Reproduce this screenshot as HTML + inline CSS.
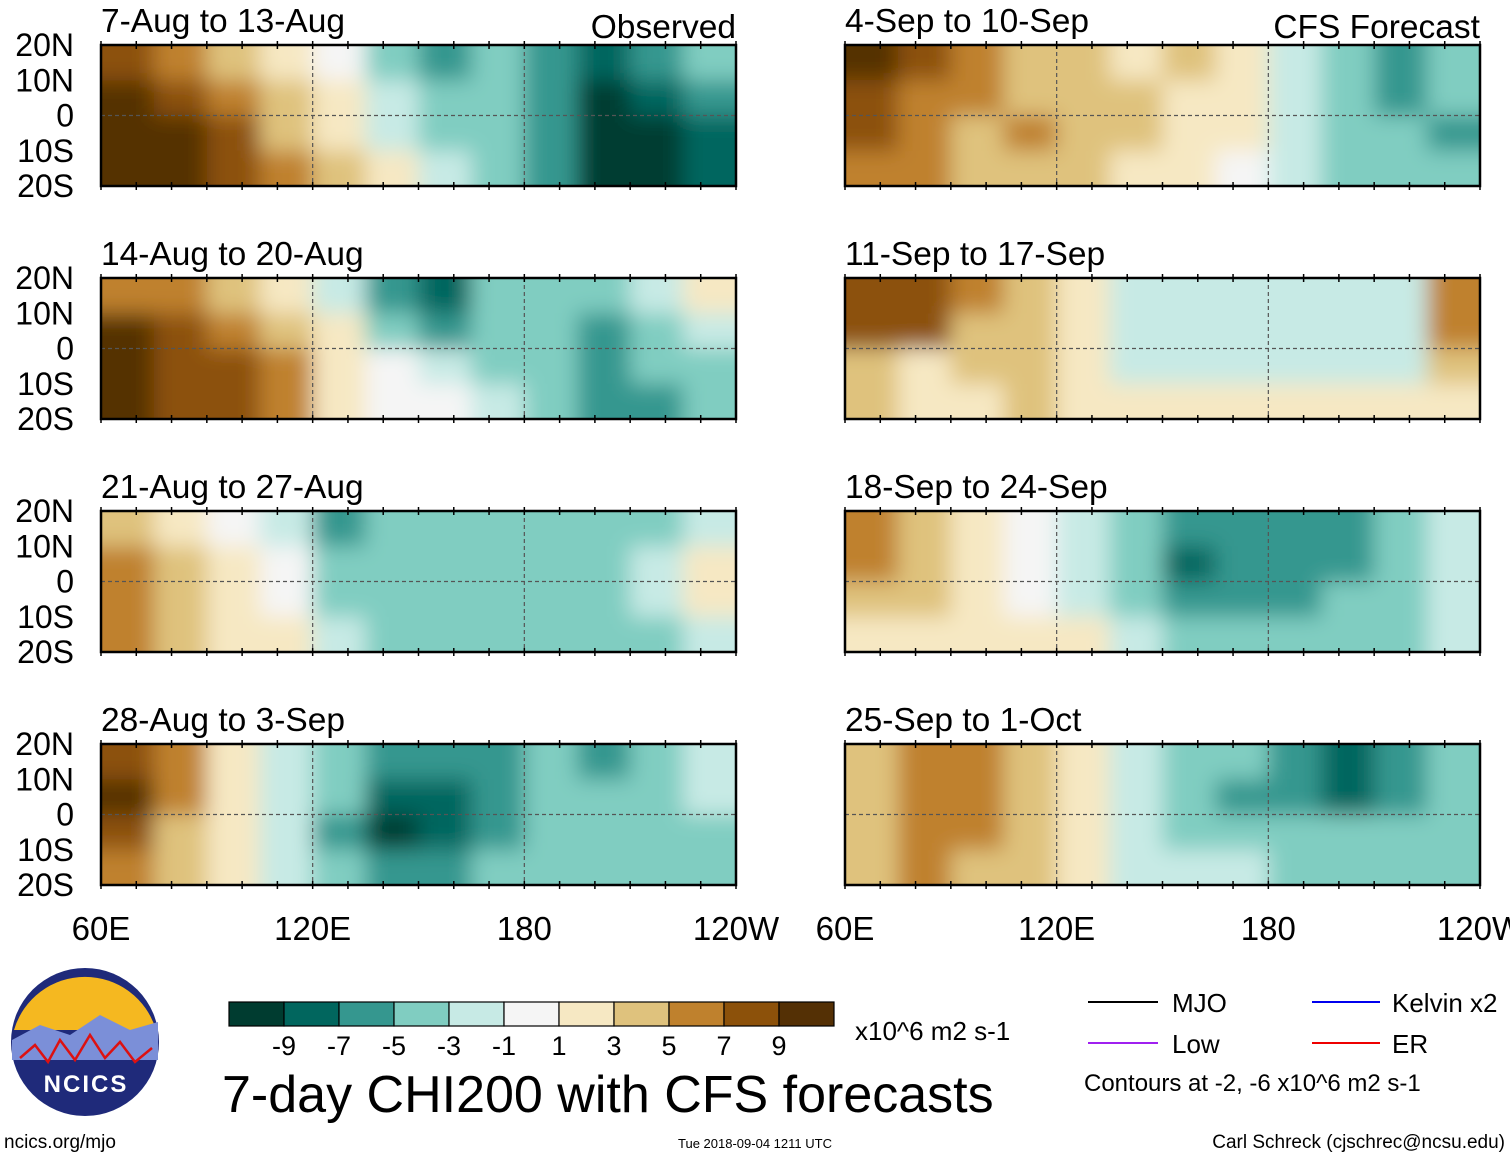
<!DOCTYPE html>
<html><head><meta charset="utf-8"><style>
body{margin:0;background:#fff;}
svg{display:block;font-family:"Liberation Sans",sans-serif;}
</style></head><body>
<svg id="chart" width="1510" height="1158" viewBox="0 0 1510 1158" xmlns="http://www.w3.org/2000/svg">
<defs>
<filter id="blur" x="-10%" y="-30%" width="120%" height="160%"><feGaussianBlur stdDeviation="11"/></filter>
</defs>
<g id="panels"></g>
<g id="legendArea">
  <g>
    <circle cx="85" cy="1042" r="74" fill="#1f2a7a"/>
    <path d="M14 1030 A74 74 0 0 1 156 1030 Z" fill="#f5b820"/>
    <path d="M12 1040 L40 1025 L70 1035 L100 1015 L130 1030 L158 1022 L158 1060 L12 1060 Z" fill="#7b8fd8"/>
    <path d="M20 1058 L35 1045 L48 1062 L60 1040 L75 1060 L90 1035 L105 1058 L120 1042 L135 1062 L152 1048" fill="none" stroke="#d11" stroke-width="2.5"/>
    <text x="86" y="1092" font-size="24" font-weight="bold" fill="#fff" text-anchor="middle" letter-spacing="2">NCICS</text>
  </g>
  <g id="colorbar"></g>
  <text x="855" y="1040" font-size="26">x10^6 m2 s-1</text>
  <text x="222" y="1112" font-size="52">7-day CHI200 with CFS forecasts</text>
  <g><line x1="1088" y1="1002" x2="1158" y2="1002" stroke="#000" stroke-width="2"/><text x="1172" y="1012" font-size="26">MJO</text></g>
  <g><line x1="1088" y1="1043" x2="1158" y2="1043" stroke="#a020f0" stroke-width="2"/><text x="1172" y="1053" font-size="26">Low</text></g>
  <g><line x1="1312" y1="1002" x2="1380" y2="1002" stroke="#0000ee" stroke-width="2"/><text x="1392" y="1012" font-size="26">Kelvin x2</text></g>
  <g><line x1="1312" y1="1043" x2="1380" y2="1043" stroke="#ee0000" stroke-width="2"/><text x="1392" y="1053" font-size="26">ER</text></g>
  <text x="1084" y="1091" font-size="24">Contours at -2, -6 x10^6 m2 s-1</text>
  <text x="4" y="1148" font-size="19">ncics.org/mjo</text>
  <text x="755" y="1148" font-size="13" text-anchor="middle">Tue 2018-09-04 1211 UTC</text>
  <text x="1505" y="1148" font-size="19" text-anchor="end">Carl Schreck (cjschrec@ncsu.edu)</text>
</g>
</svg>
<script>
const colors=["#003c30","#01665e","#35978f","#80cdc1","#c7eae5","#f5f5f5","#f6e8c3","#dfc27d","#bf812d","#8c510a","#543005"];
const barLabels=["-9","-7","-5","-3","-1","1","3","5","7","9"];
const latLabels=["20N","10N","0","10S","20S"];
const lonLabels=["60E","120E","180","120W"];
const titles=["7-Aug to 13-Aug","14-Aug to 20-Aug","21-Aug to 27-Aug","28-Aug to 3-Sep","4-Sep to 10-Sep","11-Sep to 17-Sep","18-Sep to 24-Sep","25-Sep to 1-Oct"];
// grids: rows 20N-10N,10N-0,0-10S,10S-20S ; cols every 15deg from 60E
const p1=[[8,6,4,2,0,-4,-6,-4,-6,-8,-6,-4],[10,8,6,4,2,-2,-4,-4,-6,-10,-8,-6],[10,10,8,4,2,-2,-4,-4,-6,-10,-10,-8],[10,10,8,6,4,2,-2,-4,-6,-10,-10,-8]];
const p2=[[6,6,4,2,-2,-6,-8,-4,-4,-4,-2,2],[10,8,6,4,2,-4,-6,-4,-4,-6,-4,-2],[10,8,8,6,2,0,-2,-4,-4,-6,-4,-4],[10,8,8,6,2,0,0,-2,-4,-6,-6,-4]];
const p3=[[4,2,0,-2,-6,-4,-4,-4,-4,-4,-4,-2],[6,4,2,0,-4,-4,-4,-4,-4,-4,-2,2],[6,4,2,0,-4,-4,-4,-4,-4,-4,-2,2],[6,4,2,2,-2,-4,-4,-4,-4,-4,-4,-2]];
const p4=[[8,6,2,-2,-4,-6,-6,-6,-4,-6,-4,-2],[10,6,2,-2,-4,-8,-8,-6,-4,-4,-4,-2],[8,4,2,-2,-6,-10,-8,-6,-4,-4,-4,-4],[6,4,2,-2,-4,-6,-6,-4,-4,-4,-4,-4]];
const p5=[[10,8,6,4,4,2,4,2,-2,-4,-6,-4],[8,6,6,4,4,4,2,2,-2,-4,-6,-4],[8,6,4,6,4,4,2,2,-2,-4,-4,-6],[6,6,4,4,4,2,2,0,-2,-4,-4,-4]];
const p6=[[8,8,6,4,2,-2,-2,-2,-2,-2,-2,6],[8,8,4,4,2,-2,-2,-2,-2,-2,-2,6],[4,2,4,4,2,-2,-2,-2,-2,-2,-2,4],[4,2,2,4,2,2,2,2,2,2,2,2]];
const p7=[[6,4,2,0,-2,-4,-6,-6,-6,-6,-4,-2],[6,4,2,0,-2,-4,-8,-6,-6,-6,-4,-2],[4,4,2,0,-2,-4,-6,-6,-6,-4,-4,-2],[2,2,2,2,2,-2,-4,-4,-4,-4,-4,-2]];
const p8=[[4,6,6,4,2,-2,-4,-4,-6,-8,-6,-4],[4,6,6,4,2,-2,-4,-6,-6,-8,-6,-4],[4,6,6,4,2,-2,-4,-4,-4,-4,-4,-4],[4,6,4,4,2,-2,-2,-2,-4,-4,-4,-4]];
const grids=[p1,p2,p3,p4,p5,p6,p7,p8];

const NS="http://www.w3.org/2000/svg";
function mk(tag,attrs,parent){const e=document.createElementNS(NS,tag);for(const k in attrs)e.setAttribute(k,attrs[k]);parent.appendChild(e);return e;}
function colorOf(v){let i=Math.floor((v+11)/2);i=Math.max(0,Math.min(10,i));return colors[i];}
const colX=[101,845], rowY=[45,278,511,744], PW=635, PH=141;
const xScale=(x0,lon)=>x0+(lon-60)/180*PW;
const yScale=(y0,lat)=>y0+(20-lat)/40*PH;
const panels=document.getElementById('panels');
grids.forEach((g,pi)=>{
  const x0=colX[Math.floor(pi/4)], y0=rowY[pi%4];
  const pg=mk('g',{},panels);
  
  
  const cid='clip'+pi;
  const cp=mk('clipPath',{id:cid},pg);mk('rect',{x:x0,y:y0,width:PW,height:PH},cp);
  const field=mk('g',{'clip-path':'url(#'+cid+')'},pg);
  const fb=mk('g',{filter:'url(#blur)'},field);
  const nr=g.length,nc=g[0].length;
  for(let r=-1;r<=nr;r++)for(let c=-1;c<=nc;c++){
    const rr=Math.max(0,Math.min(nr-1,r)),cc=Math.max(0,Math.min(nc-1,c));
    const lon=60+c*15, lat=20-r*10;
    const x1=xScale(x0,lon),x2=xScale(x0,lon+15),y1=yScale(y0,lat),y2=yScale(y0,lat-10);
    const cell=mk('rect',{x:x1,y:y1,width:x2-x1+1,height:y2-y1+1,fill:colorOf(g[rr][cc])},fb);
    
    
  }
  mk('line',{x1:x0,y1:yScale(y0,0),x2:x0+PW,y2:yScale(y0,0),stroke:'#555','stroke-width':1.2,'stroke-dasharray':'4,3'},pg);
  [120,180].forEach(l=>mk('line',{x1:xScale(x0,l),y1:y0,x2:xScale(x0,l),y2:y0+PH,stroke:'#555','stroke-width':1.2,'stroke-dasharray':'4,3'},pg));
  mk('rect',{x:x0,y:y0,width:PW,height:PH,fill:'none',stroke:'#000','stroke-width':2.5},pg);
  for(let l=60;l<=240;l+=10){const tx=xScale(x0,l);mk('line',{x1:tx,y1:y0-4,x2:tx,y2:y0+4,stroke:'#000','stroke-width':1.5},pg);mk('line',{x1:tx,y1:y0+PH-4,x2:tx,y2:y0+PH+4,stroke:'#000','stroke-width':1.5},pg);}
  const t=mk('text',{x:x0,y:y0-13,'font-size':33.5},pg);t.textContent=titles[pi];
  
  
  if(pi===0||pi===4){const s=mk('text',{x:x0+PW,y:y0-7,'font-size':33.5,'text-anchor':'end'},pg);s.textContent=pi===0?'Observed':'CFS Forecast';
    
    }
  if(pi<4){latLabels.forEach((lb,i)=>{const tt=mk('text',{x:74,y:yScale(y0,20-i*10)+11,'font-size':32,'text-anchor':'end'},pg);tt.textContent=lb;
    
    });}
  if(pi%4===3){lonLabels.forEach((lb,i)=>{const tt=mk('text',{x:xScale(x0,60+i*60),y:940,'font-size':33,'text-anchor':'middle'},pg);tt.textContent=lb;
    
    });}
});
const cb=document.getElementById('colorbar');
colors.forEach((c,i)=>{const r=mk('rect',{x:229+i*55,y:1002,width:55,height:24,fill:c,stroke:'#000','stroke-width':1.2},cb);
  
  });
barLabels.forEach((l,i)=>{const t=mk('text',{x:284+i*55,y:1055,'font-size':27,'text-anchor':'middle'},cb);t.textContent=l;
  
  });
</script>
</body></html>
